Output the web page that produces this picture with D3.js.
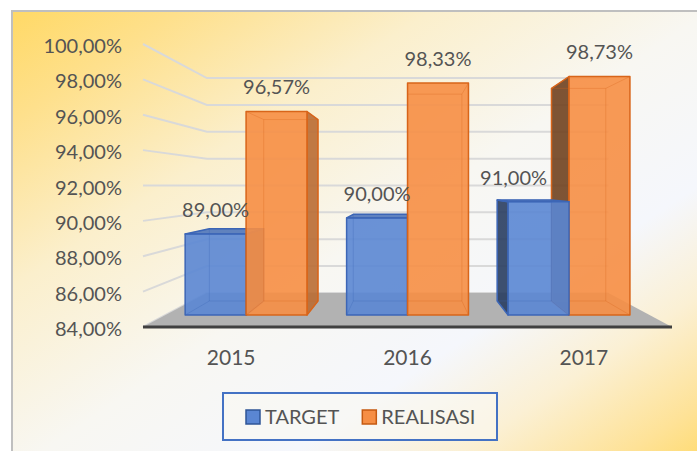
<!DOCTYPE html>
<html>
<head>
<meta charset="utf-8">
<script src="https://cdn.jsdelivr.net/npm/d3@7"></script>
<style>
  body { margin: 0; background: #fff; }
  svg { display: block; font-family: Lato, "Open Sans", sans-serif; }
</style>
</head>
<body>
<div id="chart"></div>
<script>
const years = ["2015", "2016", "2017"];
const seriesNames = ["TARGET", "REALISASI"];
const target = [89.00, 90.00, 91.00];
const realisasi = [96.57, 98.33, 98.73];
const yTicks = [84, 86, 88, 90, 92, 94, 96, 98, 100];

const width = 697, height = 451;
const fillColor = {TARGET: "#5A86D3", REALISASI: "#F68E44"};
const edgeColor = {TARGET: "#3D66B6", REALISASI: "#D8651A"};
const legendEdge = {TARGET: "#2F5597", REALISASI: "#C55A11"};
const textColor = "#545454";

const fmt = v => d3.format(".2f")(v).replace(".", ",") + "%";

const svg = d3.select("#chart").append("svg")
  .attr("width", width)
  .attr("height", height);

const defs = svg.append("defs");
const bg = defs.append("linearGradient")
  .attr("id", "bgGradient")
  .attr("x1", 0).attr("y1", 0).attr("x2", 1).attr("y2", 1);
[[0, "#FFD966"], [0.12, "#FEE08C"], [0.3, "#FBEFCC"], [0.5, "#F8F7F2"],
 [0.68, "#F5F7FC"], [0.8, "#FBF0D4"], [0.92, "#FEE297"], [1, "#FFD966"]]
  .forEach(([o, c]) => bg.append("stop").attr("offset", o).attr("stop-color", c));

// chart area (runs past the right / bottom edge like the screenshot)
svg.append("rect")
  .attr("x", 12).attr("y", 11)
  .attr("width", 700).attr("height", 460)
  .attr("fill", "url(#bgGradient)")
  .attr("stroke", "#BFBFBF")
  .attr("stroke-width", 2);

// front plane scales
const x = d3.scaleBand().domain(years).range([143, 672]);
const xs = d3.scaleBand().domain(seriesNames).range([0, x.bandwidth()]).paddingOuter(0.325);
const y = d3.scaleLinear().domain([84, 100]).range([327, 44]);

// simple perspective: vanishing point + depth factor
const vp = {x: 408, y: 185.5};
const k = 0.3175;
const s = z => 1 / (1 + k * z);
const proj = (px, py, z) => [vp.x + (px - vp.x) * s(z), vp.y + (py - vp.y) * s(z)];
const zFront = 0.29, zBack = 0.71;
const path = pts => "M" + pts.map(p => p.join(",")).join("L") + "Z";

const [xL, xR] = x.range();
const yBase = y(84);

// gridlines: side wall + back wall
const grid = svg.append("g")
  .attr("fill", "none")
  .attr("stroke", "#D9D9D9")
  .attr("stroke-width", 2);

grid.selectAll("path")
  .data(yTicks)
  .join("path")
  .attr("d", v => {
    const a = proj(xL, y(v), 0), b = proj(xL, y(v), 1), c = proj(xR, y(v), 1);
    return "M" + a + "L" + b + "L" + c;
  });

// floor
svg.append("path")
  .attr("d", path([proj(xL, yBase, 0), proj(xR, yBase, 0), proj(xR, yBase, 1), proj(xL, yBase, 1)]))
  .attr("fill", "#B2B2B2");

svg.append("line")
  .attr("x1", xL).attr("x2", xR)
  .attr("y1", yBase).attr("y2", yBase)
  .attr("stroke", "#404040")
  .attr("stroke-width", 3);

// y axis labels
svg.append("g")
  .selectAll("text")
  .data(yTicks)
  .join("text")
  .attr("x", 122)
  .attr("y", v => y(v) + 2)
  .attr("dy", "0.35em")
  .attr("text-anchor", "end")
  .attr("font-size", 20)
  .attr("fill", textColor)
  .text(v => fmt(v));

// category labels
svg.append("g")
  .selectAll("text")
  .data(years)
  .join("text")
  .attr("x", d => x(d) + x.bandwidth() / 2)
  .attr("y", 358)
  .attr("dy", "0.35em")
  .attr("text-anchor", "middle")
  .attr("font-size", 21)
  .attr("fill", textColor)
  .text(d => d);

// bars
const bars = [];
years.forEach((yr, i) => {
  [["TARGET", target[i]], ["REALISASI", realisasi[i]]].forEach(([name, v]) => {
    const X0 = x(yr) + xs(name), X1 = X0 + xs.bandwidth();
    bars.push({yr, name, v, X0, X1});
  });
});
bars.sort((a, b) => Math.abs((b.X0 + b.X1) / 2 - vp.x) - Math.abs((a.X0 + a.X1) / 2 - vp.x));

const barG = svg.append("g");
bars.forEach(d => {
  const yT = y(d.v);
  const f = [proj(d.X0, yT, zFront), proj(d.X1, yT, zFront), proj(d.X1, yBase, zFront), proj(d.X0, yBase, zFront)];
  const b = [proj(d.X0, yT, zBack), proj(d.X1, yT, zBack), proj(d.X1, yBase, zBack), proj(d.X0, yBase, zBack)];
  const base = d3.color(fillColor[d.name]);
  const edge = edgeColor[d.name];
  const g = barG.append("g");

  const faces = [];
  if (d.X0 > vp.x) faces.push({pts: [b[0], f[0], f[3], b[3]], c: base.darker(2.2)});
  if (d.X1 < vp.x) faces.push({pts: [f[1], b[1], b[2], f[2]], c: base.darker(0.8)});
  if (yT > vp.y) faces.push({pts: [b[0], b[1], f[1], f[0]], c: base.darker(0.35)});
  faces.push({pts: f, c: base});

  g.selectAll("path.face")
    .data(faces)
    .join("path")
    .attr("class", "face")
    .attr("d", p => path(p.pts))
    .attr("fill", p => p.c)
    .attr("fill-opacity", 0.9)
    .attr("stroke", edge)
    .attr("stroke-width", 1.5)
    .attr("stroke-linejoin", "round");

  // hidden edges seen through the translucent faces
  const hidden = [b, ...[0, 1, 2, 3].map(j => [f[j], b[j]])];
  g.selectAll("path.hid")
    .data(hidden)
    .join("path")
    .attr("class", "hid")
    .attr("d", p => "M" + p.map(q => q.join(",")).join("L") + (p.length > 2 ? "Z" : ""))
    .attr("fill", "none")
    .attr("stroke", edge)
    .attr("stroke-opacity", 0.3)
    .attr("stroke-width", 1);

  d.labelX = (f[0][0] + f[1][0]) / 2;
  d.labelY = f[0][1] - 24;
});

// data labels
const labelNudge = {"2017-TARGET": -25};
svg.append("g")
  .selectAll("text")
  .data(bars)
  .join("text")
  .attr("x", d => d.labelX + (labelNudge[d.yr + "-" + d.name] || 0))
  .attr("y", d => d.labelY)
  .attr("dy", "0.35em")
  .attr("text-anchor", "middle")
  .attr("font-size", 20)
  .attr("fill", textColor)
  .text(d => fmt(d.v));

// legend
const legend = svg.append("g");
legend.append("rect")
  .attr("x", 223).attr("y", 393)
  .attr("width", 274).attr("height", 47)
  .attr("fill", "#FAF8F1")
  .attr("fill-opacity", 0.6)
  .attr("stroke", "#4472C4")
  .attr("stroke-width", 2);

let lx = 246;
seriesNames.forEach(name => {
  legend.append("rect")
    .attr("x", lx).attr("y", 410)
    .attr("width", 14).attr("height", 14)
    .attr("fill", fillColor[name])
    .attr("stroke", legendEdge[name])
    .attr("stroke-width", 1.5);
  const t = legend.append("text")
    .attr("x", lx + 19)
    .attr("y", 417)
    .attr("dy", "0.35em")
    .attr("font-size", 20)
    .attr("fill", textColor)
    .text(name);
  lx += 19 + t.node().getComputedTextLength() + 23;
});
</script>
</body>
</html>
